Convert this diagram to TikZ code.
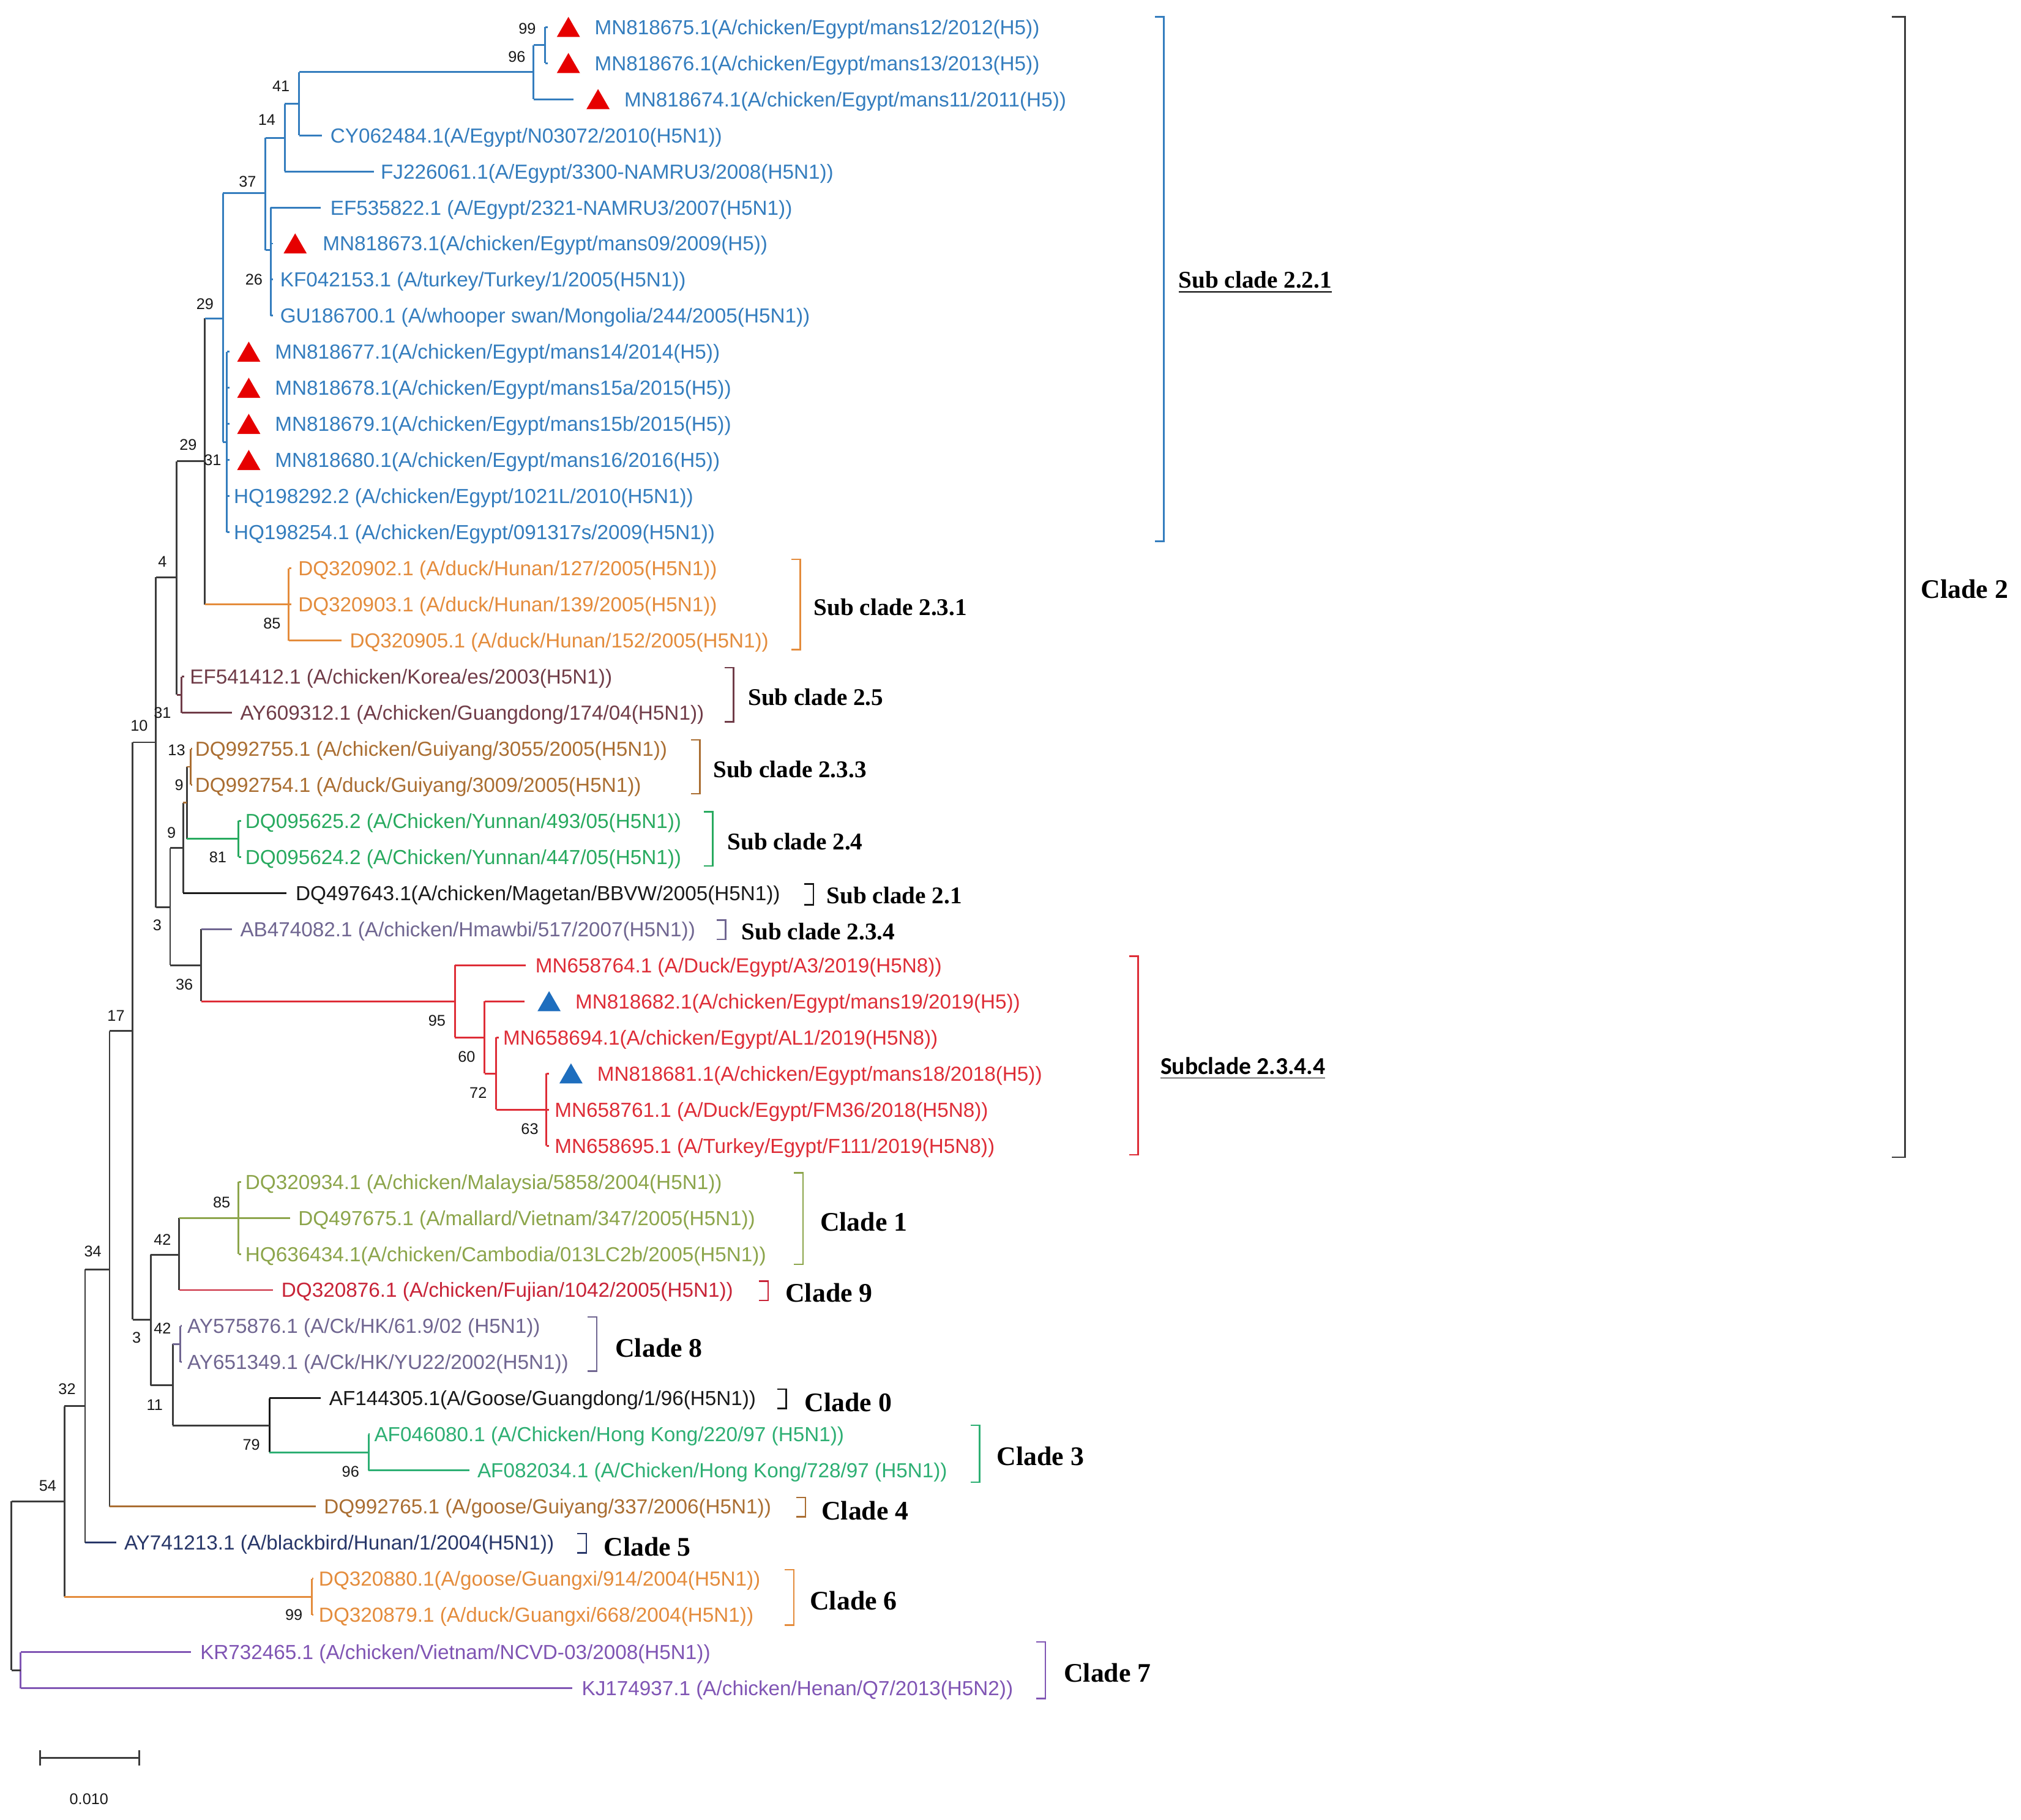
\documentclass[tikz,border=0pt]{standalone}
\usepackage{fontspec}
\setmainfont{Liberation Sans}
\newfontfamily\timesfont{Liberation Serif}
\newfontfamily\carlitofont{Carlito}
\usetikzlibrary{shapes.geometric}
\definecolor{cblue}{RGB}{52,125,190}
\definecolor{corange}{RGB}{228,140,60}
\definecolor{cplum}{RGB}{112,60,72}
\definecolor{cbrown}{RGB}{170,110,50}
\definecolor{cgreen}{RGB}{40,170,95}
\definecolor{cgrayp}{RGB}{112,102,145}
\definecolor{cred}{RGB}{222,45,55}
\definecolor{colive}{RGB}{140,165,75}
\definecolor{ccrim}{RGB}{200,35,55}
\definecolor{cgreenb}{RGB}{45,175,115}
\definecolor{cnavy}{RGB}{40,55,105}
\definecolor{cpurple}{RGB}{128,85,180}
\definecolor{cgray}{RGB}{60,60,60}
\definecolor{cblack}{RGB}{25,25,25}
\definecolor{ctrired}{RGB}{230,0,0}
\definecolor{ctriblue}{RGB}{30,110,190}
\newcommand\leaffont{\fontsize{7.9}{9}\selectfont}
\newcommand\bsfont{\fontsize{6}{7}\selectfont}
\newcommand\cladefont{\timesfont\bfseries\fontsize{10.4}{12}\selectfont}
\newcommand\subcladefont{\timesfont\bfseries\fontsize{9.3}{11}\selectfont}
\newcommand\ucladefont{\carlitofont\bfseries\fontsize{9.4}{11}\selectfont}
\newcommand\tvert[4]{\draw[br,#1] (#2 |- #3) -- (#2 |- #4);}
\newcommand\tedge[3]{\draw[br,#1] (#2 |- #3) -- (#3);}
\tikzset{
  br/.style={line width=0.7pt},
  brk/.style={line width=0.6pt},
  lf/.style={anchor=west, inner sep=0pt, font=\leaffont, yshift=-0.8pt},
  bs/.style={inner sep=0pt, font=\bsfont, text=cblack},
  tri/.style={regular polygon, regular polygon sides=3, inner sep=0pt, minimum size=10.4pt, draw=none},
  cl/.style={anchor=west, inner sep=0pt, font=\cladefont, text=black},
  scl/.style={anchor=west, inner sep=0pt, font=\subcladefont, text=black},
  ucl/.style={anchor=west, inner sep=0pt, font=\ucladefont, text=black}
}
\begin{document}
\begin{tikzpicture}[x=0.5pt,y=-0.5pt]
\fill[white] (0,0) rectangle (1568,1412);
\useasboundingbox (0,0) rectangle (1568,1412);
% internal nodes
\coordinate (root) at (9,1231);
\coordinate (n54) at (50,1165);
\coordinate (n32) at (66,1091);
\coordinate (n34) at (85,985);
\coordinate (n17) at (103,800);
\coordinate (n10) at (121,576);
\coordinate (n4) at (137,448);
\coordinate (n29L) at (159,358);
\coordinate (n29U) at (173,247);
\coordinate (n37) at (206,150);
\coordinate (n14) at (221,107);
\coordinate (n41) at (232,80.5);
\coordinate (n96) at (414,56);
\coordinate (n99) at (423,35);
\coordinate (n26) at (210,194);
\coordinate (n31) at (176,343);
\coordinate (n231) at (224,469);
\coordinate (n31b) at (141,539);
\coordinate (n3) at (132,704);
\coordinate (n9b) at (142,658);
\coordinate (n9a) at (145,623);
\coordinate (n13) at (148,595);
\coordinate (g24) at (185,651);
\coordinate (n36) at (156,749);
\coordinate (n95) at (353,777);
\coordinate (n60) at (376,805);
\coordinate (n72) at (385,833);
\coordinate (n63) at (424,861);
\coordinate (n3L) at (117,1024);
\coordinate (n42a) at (139,973.5);
\coordinate (c1) at (185,945);
\coordinate (n11) at (134,1075);
\coordinate (n42b) at (140,1043);
\coordinate (n79) at (209,1106);
\coordinate (c3) at (286,1127);
\coordinate (c6) at (242,1239);
\coordinate (c7) at (16,1296);
% tips
\coordinate (t1) at (425,21);
\coordinate (t2) at (425,49);
\coordinate (t3) at (445,77);
\coordinate (t4) at (250,105);
\coordinate (t5) at (290,133);
\coordinate (t6) at (249,161);
\coordinate (t7) at (212,189);
\coordinate (t8) at (212,217);
\coordinate (t9) at (212,245);
\coordinate (t10) at (178,273);
\coordinate (t11) at (178,301);
\coordinate (t12) at (178,329);
\coordinate (t13) at (178,357);
\coordinate (t14) at (178,385);
\coordinate (t15) at (178,413);
\coordinate (t16) at (226,441);
\coordinate (t17) at (226,469);
\coordinate (t18) at (265,497);
\coordinate (t19) at (143,525);
\coordinate (t20) at (180,553);
\coordinate (t21) at (149,581);
\coordinate (t22) at (149,609);
\coordinate (t23) at (187,637);
\coordinate (t24) at (187,665);
\coordinate (t25) at (222,693);
\coordinate (t26) at (180,721);
\coordinate (t27) at (408,749);
\coordinate (t28) at (407,777);
\coordinate (t29) at (387,805);
\coordinate (t30) at (426,833);
\coordinate (t31) at (426,861);
\coordinate (t32) at (426,889);
\coordinate (t33) at (187,917);
\coordinate (t34) at (225,945);
\coordinate (t35) at (187,973);
\coordinate (t36) at (212,1001);
\coordinate (t37) at (141,1029);
\coordinate (t38) at (141,1057);
\coordinate (t39) at (249,1085);
\coordinate (t40) at (287,1113);
\coordinate (t41) at (364,1141);
\coordinate (t42) at (245,1169);
\coordinate (t43) at (90,1197);
\coordinate (t44) at (243,1225);
\coordinate (t45) at (243,1253);
\coordinate (t46) at (148,1282);
\coordinate (t47) at (444,1310);
% verticals
\tvert{cgray}{root}{n54}{c7}
\tvert{cgray}{n54}{n32}{c6}
\tvert{cgray}{n32}{n34}{t43}
\tvert{cgray}{n34}{n17}{t42}
\tvert{cgray}{n17}{n10}{n3L}
\tvert{cgray}{n10}{n4}{n3}
\tvert{cgray}{n4}{n29L}{n31b}
\tvert{cgray}{n29L}{n29U}{n231}
\tvert{cblue}{n29U}{n37}{n31}
\tvert{cblue}{n37}{n14}{n26}
\tvert{cblue}{n14}{n41}{t5}
\tvert{cblue}{n41}{n96}{t4}
\tvert{cblue}{n96}{n99}{t3}
\tvert{cblue}{n99}{t1}{t2}
\tvert{cblue}{n26}{t6}{t9}
\tvert{cblue}{n31}{t10}{t15}
\tvert{corange}{n231}{t16}{t18}
\tvert{cplum}{n31b}{t19}{t20}
\tvert{cgray}{n3}{n9b}{n36}
\tvert{cgray}{n9b}{n9a}{t25}
\tvert{cgray}{n9a}{n13}{g24}
\tvert{cbrown}{n13}{t21}{t22}
\tvert{cgreen}{g24}{t23}{t24}
\tvert{cgray}{n36}{t26}{n95}
\tvert{cred}{n95}{t27}{n60}
\tvert{cred}{n60}{t28}{n72}
\tvert{cred}{n72}{t29}{n63}
\tvert{cred}{n63}{t30}{t32}
\tvert{cgray}{n3L}{n42a}{n11}
\tvert{cgray}{n42a}{c1}{t36}
\tvert{colive}{c1}{t33}{t35}
\tvert{cgray}{n11}{n42b}{n79}
\tvert{cgrayp}{n42b}{t37}{t38}
\tvert{cblack}{n79}{t39}{c3}
\tvert{cgreenb}{c3}{t40}{t41}
\tvert{corange}{c6}{t44}{t45}
\tvert{cpurple}{c7}{t46}{t47}
% horizontal edges
\tedge{cgray}{root}{n54}
\tedge{cgray}{root}{c7}
\tedge{cgray}{n54}{n32}
\tedge{corange}{n54}{c6}
\tedge{cgray}{n32}{n34}
\tedge{cnavy}{n32}{t43}
\tedge{cgray}{n34}{n17}
\tedge{cbrown}{n34}{t42}
\tedge{cgray}{n17}{n10}
\tedge{cgray}{n17}{n3L}
\tedge{cgray}{n10}{n4}
\tedge{cgray}{n10}{n3}
\tedge{cgray}{n4}{n29L}
\tedge{cplum}{n4}{n31b}
\tedge{cblue}{n29L}{n29U}
\tedge{corange}{n29L}{n231}
\tedge{cblue}{n29U}{n37}
\tedge{cblue}{n29U}{n31}
\tedge{cblue}{n37}{n14}
\tedge{cblue}{n37}{n26}
\tedge{cblue}{n14}{n41}
\tedge{cblue}{n14}{t5}
\tedge{cblue}{n41}{n96}
\tedge{cblue}{n41}{t4}
\tedge{cblue}{n96}{n99}
\tedge{cblue}{n96}{t3}
\tedge{cblue}{n99}{t1}
\tedge{cblue}{n99}{t2}
\tedge{cblue}{n26}{t6}
\tedge{cblue}{n26}{t7}
\tedge{cblue}{n26}{t8}
\tedge{cblue}{n26}{t9}
\tedge{cblue}{n31}{t10}
\tedge{cblue}{n31}{t11}
\tedge{cblue}{n31}{t12}
\tedge{cblue}{n31}{t13}
\tedge{cblue}{n31}{t14}
\tedge{cblue}{n31}{t15}
\tedge{corange}{n231}{t16}
\tedge{corange}{n231}{t17}
\tedge{corange}{n231}{t18}
\tedge{cplum}{n31b}{t19}
\tedge{cplum}{n31b}{t20}
\tedge{cgray}{n3}{n9b}
\tedge{cgray}{n3}{n36}
\tedge{cbrown}{n9b}{n9a}
\tedge{cblack}{n9b}{t25}
\tedge{cbrown}{n9a}{n13}
\tedge{cgreen}{n9a}{g24}
\tedge{cbrown}{n13}{t21}
\tedge{cbrown}{n13}{t22}
\tedge{cgreen}{g24}{t23}
\tedge{cgreen}{g24}{t24}
\tedge{cgrayp}{n36}{t26}
\tedge{cred}{n36}{n95}
\tedge{cred}{n95}{t27}
\tedge{cred}{n95}{n60}
\tedge{cred}{n60}{t28}
\tedge{cred}{n60}{n72}
\tedge{cred}{n72}{t29}
\tedge{cred}{n72}{n63}
\tedge{cred}{n63}{t30}
\tedge{cred}{n63}{t31}
\tedge{cred}{n63}{t32}
\tedge{cgray}{n3L}{n42a}
\tedge{cgray}{n3L}{n11}
\tedge{colive}{n42a}{c1}
\tedge{ccrim}{n42a}{t36}
\tedge{colive}{c1}{t33}
\tedge{colive}{c1}{t34}
\tedge{colive}{c1}{t35}
\tedge{cgrayp}{n11}{n42b}
\tedge{cgray}{n11}{n79}
\tedge{cgrayp}{n42b}{t37}
\tedge{cgrayp}{n42b}{t38}
\tedge{cblack}{n79}{t39}
\tedge{cgreenb}{n79}{c3}
\tedge{cgreenb}{c3}{t40}
\tedge{cgreenb}{c3}{t41}
\tedge{corange}{c6}{t44}
\tedge{corange}{c6}{t45}
\tedge{cpurple}{c7}{t46}
\tedge{cpurple}{c7}{t47}
% triangles
\node[tri, fill=ctrired] (k1) at (441,23.5) {};
\node[tri, fill=ctrired] (k2) at (441,51.5) {};
\node[tri, fill=ctrired] (k3) at (464,79.5) {};
\node[tri, fill=ctrired] (k7) at (229,191.5) {};
\node[tri, fill=ctrired] (k10) at (193,275.5) {};
\node[tri, fill=ctrired] (k11) at (193,303.5) {};
\node[tri, fill=ctrired] (k12) at (193,331.5) {};
\node[tri, fill=ctrired] (k13) at (193,359.5) {};
\node[tri, fill=ctriblue] (k28) at (426,779.5) {};
\node[tri, fill=ctriblue] (k30) at (443,835.5) {};
% leaf labels
\node[lf, text=cblue] (L1) at (461,21) {MN818675.1(A/chicken/Egypt/mans12/2012(H5))};
\node[lf, text=cblue] (L2) at (461,49) {MN818676.1(A/chicken/Egypt/mans13/2013(H5))};
\node[lf, text=cblue] (L3) at (484,77) {MN818674.1(A/chicken/Egypt/mans11/2011(H5))};
\node[lf, text=cblue] (L4) at (256,105) {CY062484.1(A/Egypt/N03072/2010(H5N1))};
\node[lf, text=cblue] (L5) at (295,133) {FJ226061.1(A/Egypt/3300-NAMRU3/2008(H5N1))};
\node[lf, text=cblue] (L6) at (256,161) {EF535822.1 (A/Egypt/2321-NAMRU3/2007(H5N1))};
\node[lf, text=cblue] (L7) at (250,189) {MN818673.1(A/chicken/Egypt/mans09/2009(H5))};
\node[lf, text=cblue] (L8) at (217,217) {KF042153.1 (A/turkey/Turkey/1/2005(H5N1))};
\node[lf, text=cblue] (L9) at (217,245) {GU186700.1 (A/whooper swan/Mongolia/244/2005(H5N1))};
\node[lf, text=cblue] (L10) at (213,273) {MN818677.1(A/chicken/Egypt/mans14/2014(H5))};
\node[lf, text=cblue] (L11) at (213,301) {MN818678.1(A/chicken/Egypt/mans15a/2015(H5))};
\node[lf, text=cblue] (L12) at (213,329) {MN818679.1(A/chicken/Egypt/mans15b/2015(H5))};
\node[lf, text=cblue] (L13) at (213,357) {MN818680.1(A/chicken/Egypt/mans16/2016(H5))};
\node[lf, text=cblue] (L14) at (181,385) {HQ198292.2 (A/chicken/Egypt/1021L/2010(H5N1))};
\node[lf, text=cblue] (L15) at (181,413) {HQ198254.1 (A/chicken/Egypt/091317s/2009(H5N1))};
\node[lf, text=corange] (L16) at (231,441) {DQ320902.1 (A/duck/Hunan/127/2005(H5N1))};
\node[lf, text=corange] (L17) at (231,469) {DQ320903.1 (A/duck/Hunan/139/2005(H5N1))};
\node[lf, text=corange] (L18) at (271,497) {DQ320905.1 (A/duck/Hunan/152/2005(H5N1))};
\node[lf, text=cplum] (L19) at (147,525) {EF541412.1 (A/chicken/Korea/es/2003(H5N1))};
\node[lf, text=cplum] (L20) at (186,553) {AY609312.1 (A/chicken/Guangdong/174/04(H5N1))};
\node[lf, text=cbrown] (L21) at (151,581) {DQ992755.1 (A/chicken/Guiyang/3055/2005(H5N1))};
\node[lf, text=cbrown] (L22) at (151,609) {DQ992754.1 (A/duck/Guiyang/3009/2005(H5N1))};
\node[lf, text=cgreen] (L23) at (190,637) {DQ095625.2 (A/Chicken/Yunnan/493/05(H5N1))};
\node[lf, text=cgreen] (L24) at (190,665) {DQ095624.2 (A/Chicken/Yunnan/447/05(H5N1))};
\node[lf, text=cblack] (L25) at (229,693) {DQ497643.1(A/chicken/Magetan/BBVW/2005(H5N1))};
\node[lf, text=cgrayp] (L26) at (186,721) {AB474082.1 (A/chicken/Hmawbi/517/2007(H5N1))};
\node[lf, text=cred] (L27) at (415,749) {MN658764.1 (A/Duck/Egypt/A3/2019(H5N8))};
\node[lf, text=cred] (L28) at (446,777) {MN818682.1(A/chicken/Egypt/mans19/2019(H5))};
\node[lf, text=cred] (L29) at (390,805) {MN658694.1(A/chicken/Egypt/AL1/2019(H5N8))};
\node[lf, text=cred] (L30) at (463,833) {MN818681.1(A/chicken/Egypt/mans18/2018(H5))};
\node[lf, text=cred] (L31) at (430,861) {MN658761.1 (A/Duck/Egypt/FM36/2018(H5N8))};
\node[lf, text=cred] (L32) at (430,889) {MN658695.1 (A/Turkey/Egypt/F111/2019(H5N8))};
\node[lf, text=colive] (L33) at (190,917) {DQ320934.1 (A/chicken/Malaysia/5858/2004(H5N1))};
\node[lf, text=colive] (L34) at (231,945) {DQ497675.1 (A/mallard/Vietnam/347/2005(H5N1))};
\node[lf, text=colive] (L35) at (190,973) {HQ636434.1(A/chicken/Cambodia/013LC2b/2005(H5N1))};
\node[lf, text=ccrim] (L36) at (218,1001) {DQ320876.1 (A/chicken/Fujian/1042/2005(H5N1))};
\node[lf, text=cgrayp] (L37) at (145,1029) {AY575876.1 (A/Ck/HK/61.9/02 (H5N1))};
\node[lf, text=cgrayp] (L38) at (145,1057) {AY651349.1 (A/Ck/HK/YU22/2002(H5N1))};
\node[lf, text=cblack] (L39) at (255,1085) {AF144305.1(A/Goose/Guangdong/1/96(H5N1))};
\node[lf, text=cgreenb] (L40) at (290,1113) {AF046080.1 (A/Chicken/Hong Kong/220/97 (H5N1))};
\node[lf, text=cgreenb] (L41) at (370,1141) {AF082034.1 (A/Chicken/Hong Kong/728/97 (H5N1))};
\node[lf, text=cbrown] (L42) at (251,1169) {DQ992765.1 (A/goose/Guiyang/337/2006(H5N1))};
\node[lf, text=cnavy] (L43) at (96,1197) {AY741213.1 (A/blackbird/Hunan/1/2004(H5N1))};
\node[lf, text=corange] (L44) at (247,1225) {DQ320880.1(A/goose/Guangxi/914/2004(H5N1))};
\node[lf, text=corange] (L45) at (247,1253) {DQ320879.1 (A/duck/Guangxi/668/2004(H5N1))};
\node[lf, text=cpurple] (L46) at (155,1282) {KR732465.1 (A/chicken/Vietnam/NCVD-03/2008(H5N1))};
\node[lf, text=cpurple] (L47) at (451,1310) {KJ174937.1 (A/chicken/Henan/Q7/2013(H5N2))};
% bootstrap values
\node[bs] (b1) at (409,22) {99};
\node[bs] (b2) at (401,44) {96};
\node[bs] (b3) at (218,67) {41};
\node[bs] (b4) at (207,93) {14};
\node[bs] (b5) at (192,141) {37};
\node[bs] (b6) at (197,217) {26};
\node[bs] (b7) at (159,236) {29};
\node[bs] (b8) at (146,345) {29};
\node[bs] (b9) at (165,357) {31};
\node[bs] (b10) at (126,436) {4};
\node[bs] (b11) at (211,484) {85};
\node[bs] (b12) at (126,553) {31};
\node[bs] (b13) at (108,563) {10};
\node[bs] (b14) at (137,582) {13};
\node[bs] (b15) at (139,609) {9};
\node[bs] (b16) at (133,646) {9};
\node[bs] (b17) at (169,665) {81};
\node[bs] (b18) at (122,718) {3};
\node[bs] (b19) at (143,764) {36};
\node[bs] (b20) at (339,792) {95};
\node[bs] (b21) at (362,820) {60};
\node[bs] (b22) at (371,848) {72};
\node[bs] (b23) at (411,876) {63};
\node[bs] (b24) at (90,788) {17};
\node[bs] (b25) at (172,933) {85};
\node[bs] (b26) at (126,962) {42};
\node[bs] (b27) at (72,971) {34};
\node[bs] (b28) at (126,1031) {42};
\node[bs] (b29) at (106,1038) {3};
\node[bs] (b30) at (120,1090) {11};
\node[bs] (b31) at (52,1078) {32};
\node[bs] (b32) at (195,1121) {79};
\node[bs] (b33) at (272,1142) {96};
\node[bs] (b34) at (37,1153) {54};
\node[bs] (b35) at (228,1253) {99};
% brackets
\draw[brk,cblue] (896,13) -- (903,13) -- (903,420) -- (896,420);
\draw[brk,cgray] (1468,13) -- (1478,13) -- (1478,898) -- (1468,898);
\draw[brk,corange] (614,434) -- (621,434) -- (621,504) -- (614,504);
\draw[brk,cplum] (562,518) -- (569,518) -- (569,560) -- (562,560);
\draw[brk,cbrown] (536,574) -- (543,574) -- (543,616) -- (536,616);
\draw[brk,cgreen] (546,630) -- (553,630) -- (553,672) -- (546,672);
\draw[brk,cblack] (624,686) -- (631,686) -- (631,702) -- (624,702);
\draw[brk,cgrayp] (556,714) -- (563,714) -- (563,729) -- (556,729);
\draw[brk,cred] (876,742) -- (883,742) -- (883,896) -- (876,896);
\draw[brk,colive] (616,910) -- (623,910) -- (623,981) -- (616,981);
\draw[brk,ccrim] (589,994) -- (596,994) -- (596,1009) -- (589,1009);
\draw[brk,cgrayp] (456,1022) -- (463,1022) -- (463,1064) -- (456,1064);
\draw[brk,cblack] (603,1078) -- (610,1078) -- (610,1093) -- (603,1093);
\draw[brk,cgreenb] (753,1106) -- (760,1106) -- (760,1150) -- (753,1150);
\draw[brk,cbrown] (618,1162) -- (625,1162) -- (625,1177) -- (618,1177);
\draw[brk,cnavy] (448,1190) -- (455,1190) -- (455,1205) -- (448,1205);
\draw[brk,corange] (609,1218) -- (616,1218) -- (616,1261) -- (609,1261);
\draw[brk,cpurple] (804,1274) -- (811,1274) -- (811,1318) -- (804,1318);
% clade labels
\node[scl] (s221) at (914,219) {\underline{Sub clade 2.2.1}};
\node[cl] (s2) at (1490,457) {Clade 2};
\node[scl] (s231) at (631,471) {Sub clade 2.3.1};
\node[scl] (s25) at (580,541) {Sub clade 2.5};
\node[scl] (s233) at (553,597) {Sub clade 2.3.3};
\node[scl] (s24) at (564,653) {Sub clade 2.4};
\node[scl] (s21) at (641,695) {Sub clade 2.1};
\node[scl] (s234) at (575,723) {Sub clade 2.3.4};
\node[ucl] (s2344) at (900,829) {\underline{Subclade 2.3.4.4}};
\node[cl] (c1l) at (636,948) {Clade 1};
\node[cl] (c9l) at (609,1003) {Clade 9};
\node[cl] (c8l) at (477,1046) {Clade 8};
\node[cl] (c0l) at (624,1088) {Clade 0};
\node[cl] (c3l) at (773,1130) {Clade 3};
\node[cl] (c4l) at (637,1172) {Clade 4};
\node[cl] (c5l) at (468,1200) {Clade 5};
\node[cl] (c6l) at (628,1242) {Clade 6};
\node[cl] (c7l) at (825,1298) {Clade 7};
% scale bar
\coordinate (sb1) at (31,1364);
\coordinate (sb2) at (108,1364);
\draw[br,cgray] (sb1) -- (sb2);
\draw[br,cgray] ([yshift=-3pt]sb1) -- ([yshift=3pt]sb1);
\draw[br,cgray] ([yshift=-3pt]sb2) -- ([yshift=3pt]sb2);
\node[bs] (sbl) at (69,1396) {0.010};
\end{tikzpicture}
\end{document}
